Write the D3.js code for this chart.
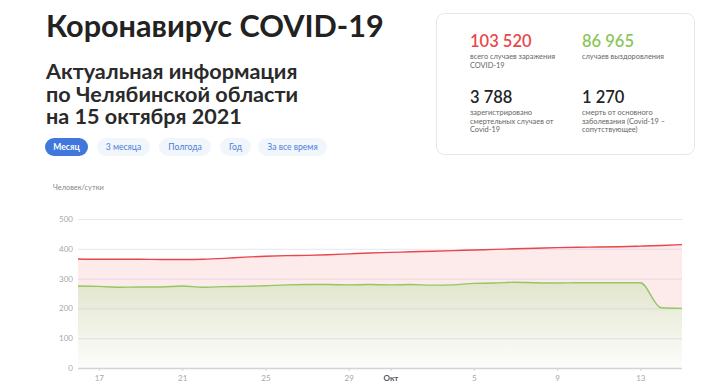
<!DOCTYPE html>
<html>
<head>
<meta charset="utf-8">
<script src="https://cdn.jsdelivr.net/npm/d3@7"></script>
<style>
  html, body { margin: 0; padding: 0; background: #fff; }
  svg { display: block; font-family: Lato, "Noto Sans", sans-serif; }
</style>
</head>
<body>
<svg id="page" width="725" height="390"></svg>
<script>
// ── Data ────────────────────────────────────────────────────────────────
const dates = [
  '2021-09-16','2021-09-17','2021-09-18','2021-09-19','2021-09-20','2021-09-21',
  '2021-09-22','2021-09-23','2021-09-24','2021-09-25','2021-09-26','2021-09-27',
  '2021-09-28','2021-09-29','2021-09-30','2021-10-01','2021-10-02','2021-10-03',
  '2021-10-04','2021-10-05','2021-10-06','2021-10-07','2021-10-08','2021-10-09',
  '2021-10-10','2021-10-11','2021-10-12','2021-10-13','2021-10-14','2021-10-15'
];
const infected = [366, 365, 365, 365, 364, 364, 365, 368, 372, 375, 377, 378, 380, 383, 386,
                  388, 390, 392, 394, 396, 398, 400, 402, 404, 405, 406, 407, 409, 411, 414];
const recovered = [275, 274, 271, 272, 272, 275, 271, 273, 274, 276, 279, 280, 280, 279, 280,
                   279, 280, 278, 279, 284, 285, 288, 286, 285, 286, 286, 286, 286, 202, 200];
const xTickDates = ['2021-09-17','2021-09-21','2021-09-25','2021-09-29','2021-10-01',
                    '2021-10-05','2021-10-09','2021-10-13'];
const yTicks = [0, 100, 200, 300, 400, 500];

const periods = ['Месяц', '3 месяца', 'Полгода', 'Год', 'За все время'];
const stats = [
  { value: '103 520', color: '#e8474c', label: ['всего случаев заражения', 'COVID-19'] },
  { value: '86 965', color: '#8cc55a', label: ['случаев выздоровления'] },
  { value: '3 788', color: '#222', label: ['зарегистрировано', 'смертельных случаев от', 'Covid-19'] },
  { value: '1 270', color: '#222', label: ['смерть от основного', 'заболевания (Covid-19 –', 'сопутствующее)'] }
];

const parse = d3.timeParse('%Y-%m-%d');
const rows = dates.map((d, i) => ({ date: parse(d), inf: infected[i], rec: recovered[i] }));

const svg = d3.select('#page');

// ── Header ──────────────────────────────────────────────────────────────
svg.append('text')
  .attr('x', 46).attr('y', 37)
  .attr('font-size', 30.6).attr('font-weight', 700).attr('fill', '#222')
  .text('Коронавирус COVID-19');

['Актуальная информация', 'по Челябинской области', 'на 15 октября 2021'].forEach((t, i) => {
  svg.append('text')
    .attr('x', 46).attr('y', 79 + i * 22.5)
    .attr('font-size', 21.6).attr('font-weight', 700).attr('fill', '#2a2a2a')
    .text(t);
});

// period pills
const pillX = [45, 97, 159, 220, 258];
const pillW = [43, 53, 52, 31, 69];
periods.forEach((p, i) => {
  const g = svg.append('g').attr('transform', `translate(${pillX[i]},138)`);
  g.append('rect')
    .attr('width', pillW[i]).attr('height', 18).attr('rx', 9)
    .attr('fill', i === 0 ? '#3f77dd' : '#f1f5fc');
  g.append('text')
    .attr('x', pillW[i] / 2).attr('y', 12.3)
    .attr('text-anchor', 'middle')
    .attr('font-size', 8.6).attr('font-weight', i === 0 ? 700 : 400)
    .attr('fill', i === 0 ? '#fff' : '#4a7fd8')
    .text(p);
});

// ── Stats card ──────────────────────────────────────────────────────────
svg.append('rect')
  .attr('x', 436.5).attr('y', 13.5).attr('width', 258).attr('height', 141).attr('rx', 8)
  .attr('fill', '#fff').attr('stroke', '#e3e7f0');

stats.forEach((s, i) => {
  const x = i % 2 === 0 ? 470 : 582;
  const y = i < 2 ? 47 : 103;
  svg.append('text')
    .attr('x', x).attr('y', y)
    .attr('font-size', 16.5).attr('font-weight', 600).attr('fill', s.color)
    .text(s.value);
  s.label.forEach((l, j) => {
    svg.append('text')
      .attr('x', x).attr('y', y + 12.3 + j * 8.3)
      .attr('font-size', 7.4).attr('fill', '#666')
      .text(l);
  });
});

// ── Chart ───────────────────────────────────────────────────────────────
const plot = { left: 78, right: 682, top: 219, bottom: 368 };

const x = d3.scaleTime()
  .domain(d3.extent(rows, d => d.date))
  .range([plot.left, plot.right]);
const y = d3.scaleLinear()
  .domain([0, 500])
  .range([plot.bottom, plot.top]);

svg.append('text')
  .attr('x', 53).attr('y', 190)
  .attr('font-size', 7.4).attr('fill', '#888')
  .text('Человек/сутки');

const defs = svg.append('defs');
const grad = defs.append('linearGradient')
  .attr('id', 'recGrad')
  .attr('gradientUnits', 'userSpaceOnUse')
  .attr('x1', 0).attr('x2', 0)
  .attr('y1', y(290)).attr('y2', y(0));
grad.append('stop').attr('offset', '0%').attr('stop-color', '#e2e5cd');
grad.append('stop').attr('offset', '100%').attr('stop-color', '#fdfdfb');

const area = key => d3.area()
  .x(d => x(d.date))
  .y0(y(0))
  .y1(d => y(d[key]))
  .curve(d3.curveMonotoneX);
const line = key => d3.line()
  .x(d => x(d.date))
  .y(d => y(d[key]))
  .curve(d3.curveMonotoneX);

svg.append('path').datum(rows).attr('d', area('inf')).attr('fill', '#fdeaeb');
svg.append('path').datum(rows).attr('d', area('rec')).attr('fill', 'url(#recGrad)');

// gridlines, drawn over the areas
svg.append('g')
  .selectAll('line')
  .data(yTicks.filter(v => v > 0))
  .join('line')
  .attr('x1', plot.left).attr('x2', plot.right)
  .attr('y1', d => y(d) + 0.5).attr('y2', d => y(d) + 0.5)
  .attr('stroke', 'rgba(190,190,222,0.38)');

svg.append('path').datum(rows).attr('d', line('inf'))
  .attr('fill', 'none').attr('stroke', '#e8464b').attr('stroke-width', 1.4);
svg.append('path').datum(rows).attr('d', line('rec'))
  .attr('fill', 'none').attr('stroke', '#93c760').attr('stroke-width', 1.4);

// y axis labels
const yAxis = svg.append('g')
  .attr('transform', `translate(${plot.left},0)`)
  .call(d3.axisLeft(y).tickValues(yTicks).tickSize(0).tickPadding(5));
yAxis.select('.domain').remove();
yAxis.selectAll('text')
  .attr('font-family', 'Lato, sans-serif').attr('font-size', 8).attr('fill', '#a8a8a8');

// x axis
const xAxis = svg.append('g')
  .attr('transform', `translate(0,${plot.bottom})`)
  .call(d3.axisBottom(x)
    .tickValues(xTickDates.map(parse))
    .tickSize(3).tickSizeOuter(0).tickPadding(4)
    .tickFormat(d => d.getDate() === 1 ? 'Окт' : d.getDate()));
xAxis.select('.domain')
  .attr('d', `M${plot.left},0.5H${plot.right}`)
  .attr('stroke', '#d3d3da').attr('stroke-width', 1.3);
xAxis.selectAll('.tick line').attr('stroke', '#d3d3da');
xAxis.selectAll('text')
  .attr('font-family', 'Lato, sans-serif').attr('font-size', 8)
  .attr('fill', d => d.getDate() === 1 ? '#555' : '#a8a8a8')
  .attr('font-weight', d => d.getDate() === 1 ? 700 : 400);
</script>
</body>
</html>
